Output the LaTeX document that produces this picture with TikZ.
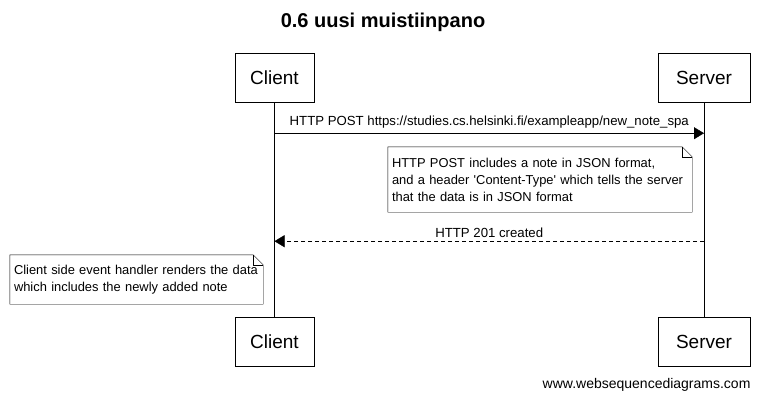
\documentclass[tikz,border=0pt]{standalone}
\usepackage{fontspec}
\setmainfont{Liberation Sans}
\usetikzlibrary{positioning,arrows.meta}

\begin{document}
\begin{tikzpicture}[x=1pt,y=-1pt]
	\tikzstyle{actor}
	  =[draw, rectangle, minimum height=49pt, inner sep=0pt,
	  font=\fontsize{19}{22}\selectfont]
	\tikzstyle{msg}
	  =[font=\fontsize{13.2}{15}\selectfont, inner sep=0pt]
	\tikzstyle{note}
	  =[rectangle, inner xsep=4pt, inner ysep=0pt, align=left,
	  font=\fontsize{12.9}{17}\selectfont]
	\tikzstyle{reply}
	  =[draw, dash pattern=on 4pt off 3pt, -{Triangle[length=10pt,width=12pt]}]
	\tikzstyle{call}
	  =[draw, -{Triangle[length=10pt,width=12pt]}]

	\useasboundingbox (0,0) rectangle (762,400);

	\node[font=\bfseries\fontsize{20}{24}\selectfont] (title)
	  at (383,22) {0.6 uusi muistiinpano};

	% participants
	\node[actor, minimum width=79pt] (client)
	  at (274.5,77.5) {Client};
	\node[actor, minimum width=92pt] (server)
	  at (704,77.5) {Server};
	\node[actor, minimum width=79pt] (clientend)
	  at (274.5,341.5) {Client};
	\node[actor, minimum width=92pt] (serverend)
	  at (704,341.5) {Server};
	\draw (client) -- (clientend);
	\draw (server) -- (serverend);

	% messages
	\path (client.south) ++(0,31) coordinate (c1);
	\path (server.south) ++(0,31) coordinate (s1);
	\path (client.south) ++(0,139) coordinate (c2);
	\path (server.south) ++(0,139) coordinate (s2);

	\draw[call] (c1) -- (s1)
	  node[msg, midway, above=5pt]
	  {HTTP POST https://studies.cs.helsinki.fi/exampleapp/new\_note\_spa};

	\node[note, minimum width=304pt, minimum height=65pt, text width=296pt] (note1)
	  at (540,179.5) {HTTP POST includes a note in JSON format,\\
	  and a header \textquotesingle Content-Type\textquotesingle{} which tells the server\\
	  that the data is in JSON format};
	\draw (note1.north west) -- ([xshift=-10pt]note1.north east)
	  -- ([yshift=-10pt]note1.north east) -- (note1.south east)
	  -- (note1.south west) -- cycle;
	\draw ([xshift=-10pt]note1.north east)
	  -- ([xshift=-10pt,yshift=-10pt]note1.north east)
	  -- ([yshift=-10pt]note1.north east);

	\draw[reply] (s2) -- (c2)
	  node[msg, midway, above=3pt] {HTTP 201 created};

	\node[note, minimum width=253pt, minimum height=49pt, text width=245pt] (note2)
	  at (136.5,279.5) {Client side event handler renders the data\\
	  which includes the newly added note};
	\draw (note2.north west) -- ([xshift=-10pt]note2.north east)
	  -- ([yshift=-10pt]note2.north east) -- (note2.south east)
	  -- (note2.south west) -- cycle;
	\draw ([xshift=-10pt]note2.north east)
	  -- ([xshift=-10pt,yshift=-10pt]note2.north east)
	  -- ([yshift=-10pt]note2.north east);

	\node[font=\fontsize{14}{16}\selectfont, anchor=east] (credit)
	  at (754,385) {www.websequencediagrams.com};
\end{tikzpicture}
\end{document}
